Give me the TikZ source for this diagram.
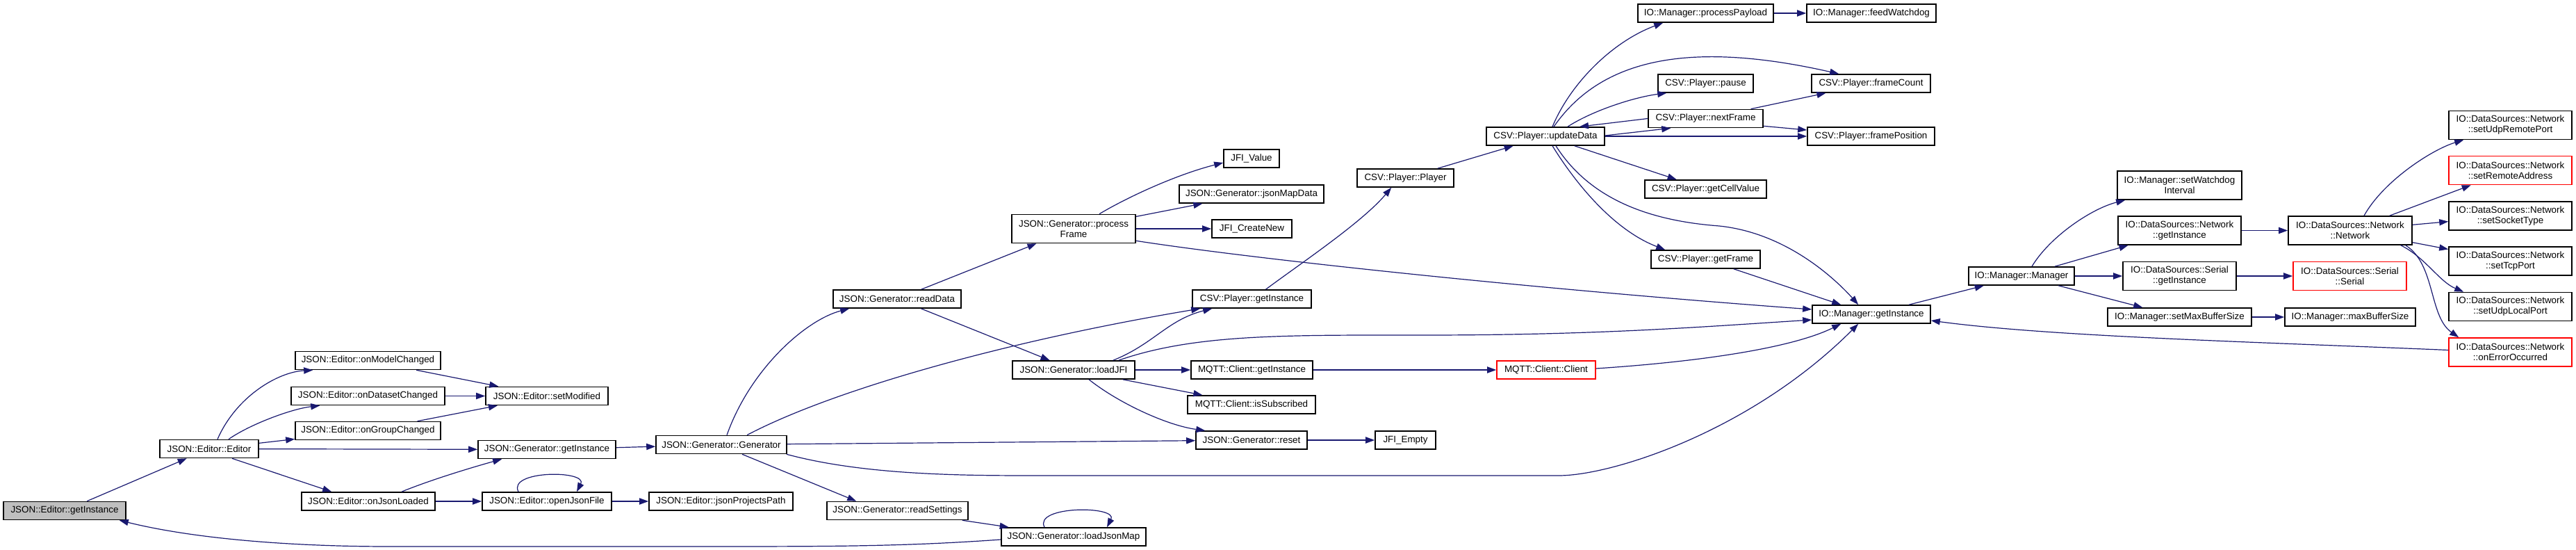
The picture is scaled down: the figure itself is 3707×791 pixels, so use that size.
\documentclass[tikz,border=0pt]{standalone}
\usepackage{fontspec}
\setmainfont{Liberation Sans}
\usetikzlibrary{arrows.meta,calc}
\definecolor{edgecol}{HTML}{191970}
\definecolor{greyfill}{HTML}{BFBFBF}
\newcommand\fsz{\fontsize{6.7}{7.5}\selectfont}
\tikzset{
  box/.style={draw=black, fill=white, line width=0.8pt, inner sep=0pt, align=center, font=\fsz},
  redbox/.style={box, draw=red},
  h1/.style={minimum height=13pt},
  h2/.style={minimum height=20.5pt},
  edge/.style={draw=edgecol, line width=0.6pt, -{Triangle[length=6.5pt,width=4.6pt]}},
}
\begin{document}
\begin{tikzpicture}[x=0.5pt,y=-0.5pt]
\useasboundingbox (0,0) rectangle (3707,791);
% ---------- nodes ----------
\node[box,h1,fill=greyfill,minimum width=88pt] (egi) at (93,734.5) {JSON::Editor::getInstance};
\node[box,h1,minimum width=71pt] (eed) at (301,645.5) {JSON::Editor::Editor};
\node[box,h1,minimum width=104.5pt] (omc) at (529.5,518.5) {JSON::Editor::onModelChanged};
\node[box,h1,minimum width=110.5pt] (odc) at (529.5,569.5) {JSON::Editor::onDatasetChanged};
\node[box,h1,minimum width=104.5pt] (ogc) at (529.5,619.5) {JSON::Editor::onGroupChanged};
\node[box,h1,minimum width=88pt] (smod) at (787,569.5) {JSON::Editor::setModified};
\node[box,h1,minimum width=99pt] (ggi) at (787,646.5) {JSON::Generator::getInstance};
\node[box,h1,minimum width=94pt] (gen) at (1038,639.5) {JSON::Generator::Generator};
\node[box,h1,minimum width=96pt] (ojl) at (530,721) {JSON::Editor::onJsonLoaded};
\node[box,h1,minimum width=93pt] (ojf) at (787,721) {JSON::Editor::openJsonFile};
\node[box,h1,minimum width=103.5pt] (jpp) at (1037.5,721) {JSON::Editor::jsonProjectsPath};
\node[box,h1,minimum width=92pt] (rdata) at (1291,430) {JSON::Generator::readData};
\node[box,h1,minimum width=101.5pt] (rset) at (1291.5,734.5) {JSON::Generator::readSettings};
\node[box,h1,minimum width=104pt] (ljm) at (1545,772) {JSON::Generator::loadJsonMap};
\node[box,h2,minimum width=89pt] (pf) at (1545,329) {JSON::Generator::process\\Frame};
\node[box,h1,minimum width=88pt] (ljfi) at (1545,532) {JSON::Generator::loadJFI};
\node[box,h1,minimum width=40pt] (jfiv) at (1801,228) {JFI\_Value};
\node[box,h1,minimum width=104pt] (jmd) at (1801,279) {JSON::Generator::jsonMapData};
\node[box,h1,minimum width=57.5pt] (jfic) at (1801.5,329) {JFI\_CreateNew};
\node[box,h1,minimum width=85.5pt] (csvgi) at (1801.5,430) {CSV::Player::getInstance};
\node[box,h1,minimum width=87.5pt] (mqgi) at (1801.5,532) {MQTT::Client::getInstance};
\node[box,h1,minimum width=92pt] (issub) at (1801,582) {MQTT::Client::isSubscribed};
\node[box,h1,minimum width=80pt] (reset) at (1801,633) {JSON::Generator::reset};
\node[box,h1,minimum width=43.5pt] (jfie) at (2022.5,633) {JFI\_Empty};
\node[box,h1,minimum width=69.5pt] (csvp) at (2022.5,256) {CSV::Player::Player};
\node[redbox,h1,minimum width=71pt] (mqc) at (2225,532) {MQTT::Client::Client};
\node[box,h1,minimum width=85pt] (upd) at (2224,196) {CSV::Player::updateData};
\node[box,h1,minimum width=97.5pt] (ppl) at (2454.5,19) {IO::Manager::processPayload};
\node[box,h1,minimum width=93pt] (fwd) at (2693,19) {IO::Manager::feedWatchdog};
\node[box,h1,minimum width=68.5pt] (pause) at (2454.5,120) {CSV::Player::pause};
\node[box,h1,minimum width=85.5pt] (fcount) at (2692.5,120) {CSV::Player::frameCount};
\node[box,h1,minimum width=82.5pt] (nframe) at (2454.5,170.5) {CSV::Player::nextFrame};
\node[box,h1,minimum width=91.5pt] (fpos) at (2692.5,196) {CSV::Player::framePosition};
\node[box,h1,minimum width=87.5pt] (gcv) at (2454.5,272) {CSV::Player::getCellValue};
\node[box,h1,minimum width=78.5pt] (gfr) at (2454.5,373) {CSV::Player::getFrame};
\node[box,h1,minimum width=85pt] (mgi) at (2693,452) {IO::Manager::getInstance};
\node[box,h1,minimum width=76pt] (mman) at (2909,397) {IO::Manager::Manager};
\node[box,h2,minimum width=89.5pt] (swi) at (3136.5,266.5) {IO::Manager::setWatchdog\\Interval};
\node[box,h2,minimum width=88.5pt] (ngi) at (3136.5,331.5) {IO::DataSources::Network\\::getInstance};
\node[box,h2,minimum width=81.5pt] (sgi) at (3136.5,397) {IO::DataSources::Serial\\::getInstance};
\node[box,h1,minimum width=103.5pt] (smbs) at (3136.5,456) {IO::Manager::setMaxBufferSize};
\node[box,h2,minimum width=89pt] (net) at (3382,331.5) {IO::DataSources::Network\\::Network};
\node[redbox,h2,minimum width=81.5pt] (ser) at (3381.5,397) {IO::DataSources::Serial\\::Serial};
\node[box,h1,minimum width=94pt] (mbs) at (3382,456) {IO::Manager::maxBufferSize};
\node[box,h2,minimum width=88.5pt] (surp) at (3612.5,180) {IO::DataSources::Network\\::setUdpRemotePort};
\node[redbox,h2,minimum width=88.5pt] (sra) at (3612.5,245) {IO::DataSources::Network\\::setRemoteAddress};
\node[box,h2,minimum width=88.5pt] (sst) at (3612.5,310.5) {IO::DataSources::Network\\::setSocketType};
\node[box,h2,minimum width=88.5pt] (stp) at (3612.5,375.5) {IO::DataSources::Network\\::setTcpPort};
\node[box,h2,minimum width=88.5pt] (sulp) at (3612.5,441) {IO::DataSources::Network\\::setUdpLocalPort};
\node[redbox,h2,minimum width=88.5pt] (oeo) at (3612.5,506.5) {IO::DataSources::Network\\::onErrorOccurred};
% ---------- edges ----------
\draw[edge] (egi) -- (eed);
\draw[edge] ($(eed.north)+(12,0)$) .. controls (340,570) and (400,535) .. ($(omc.south west)+(26,0)$);
\draw[edge] ($(eed.north)+(28,0)$) .. controls (360,610) and (420,588) .. ($(odc.south west)+(42,0)$);
\draw[edge] (eed) -- (ogc);
\draw[edge] (eed) -- (ggi);
\draw[edge] ($(eed.south)+(33,0)$) -- ($(ojl.north west)+(44,0)$);
\draw[edge] (omc) -- (smod);
\draw[edge] (odc) -- (smod);
\draw[edge] (ogc) -- (smod);
\draw[edge] ($(ojl.north)+(48,0)$) .. controls (620,690) and (680,672) .. ($(ggi.south west)+(35,0)$);
\draw[edge] (ojl) -- (ojf);
\draw[edge] ($(ojf.north)+(-41,0)$) .. controls (730,676) and (846,676) .. ($(ojf.north)+(43,0)$);
\draw[edge] (ojf) -- (jpp);
\draw[edge] (ggi) -- (gen);
\draw[edge] ($(gen.north)+(8,0)$) .. controls (1080,530) and (1160,460) .. ($(rdata.south west)+(24,0)$);
\draw[edge] ($(gen.north)+(37,0)$) .. controls (1200,560) and (1450,490) .. ($(csvgi.south west)+(12,0)$);
\draw[edge] (gen) -- (reset);
\draw[edge] ($(gen.south east)+(-1,0)$) .. controls (1250,685) and (1400,684) .. (1508,684) -- (2243,684) .. controls (2320,684) and (2520,620) .. ($(mgi.south west)+(67,0)$);
\draw[edge] ($(gen.south)+(30,0)$) -- ($(rset.north west)+(43,0)$);
\draw[edge] (rset) -- (ljm);
\draw[edge] ($(ljm.north)+(-42,0)$) .. controls (1487,727) and (1609,727) .. ($(ljm.north)+(48,0)$);
\draw[edge] ($(ljm.west)+(0,4)$) .. controls (1300,786) and (1200,786) .. (1000,786) -- (560,786) .. controls (420,786) and (280,775) .. ($(egi.south east)+(-10,0)$);
\draw[edge] (rdata) -- (pf);
\draw[edge] (rdata) -- (ljfi);
\draw[edge] ($(pf.north)+(37,0)$) .. controls (1620,285) and (1690,252) .. ($(jfiv.west)+(0,6)$);
\draw[edge] (pf) -- (jmd);
\draw[edge] (pf) -- (jfic);
\draw[edge] ($(pf.south east)+(0,-4)$) .. controls (1800,372) and (2200,415) .. ($(mgi.west)+(0,-7)$);
\draw[edge] ($(ljfi.north east)+(-32,0)$) .. controls (1660,495) and (1680,460) .. ($(csvgi.south west)+(29,0)$);
\draw[edge] ($(ljfi.north east)+(-24,0)$) .. controls (1720,480) and (1850,482) .. (2050,482) .. controls (2300,482) and (2450,470) .. ($(mgi.west)+(0,8)$);
\draw[edge] (ljfi) -- (mqgi);
\draw[edge] (ljfi) -- (issub);
\draw[edge] ($(ljfi.south)+(22,0)$) .. controls (1610,580) and (1680,612) .. ($(reset.north west)+(14,0)$);
\draw[edge] (mqgi) -- (mqc);
\draw[edge] ($(mqc.east)+(0,-2)$) .. controls (2450,520) and (2580,500) .. ($(mgi.south west)+(42,0)$);
\draw[edge] (reset) -- (jfie);
\draw[edge] ($(csvgi.north)+(20,0)$) .. controls (1870,380) and (1960,320) .. ($(csvp.south west)+(50,0)$);
\draw[edge] (csvp) -- (upd);
\draw[edge] ($(upd.north)+(10,0)$) .. controls (2260,120) and (2320,60) .. ($(ppl.south west)+(37,0)$);
\draw[edge] ($(upd.north)+(12,0)$) .. controls (2300,90) and (2420,55) .. ($(fcount.north west)+(40,0)$);
\draw[edge] ($(upd.north)+(32,0)$) .. controls (2290,160) and (2350,140) .. ($(pause.south west)+(13,0)$);
\draw[edge] ($(upd.east)+(0,-1)$) -- ($(nframe.south west)+(33,0)$);
\draw[edge] (nframe.west) -- ($(upd.north)+(49,0)$);
\draw[edge] (upd) -- (fpos);
\draw[edge] (nframe) -- (fcount);
\draw[edge] ($(nframe.south east)+(0,-3)$) -- ($(fpos.west)+(0,-9)$);
\draw[edge] (ppl) -- (fwd);
\draw[edge] (upd) -- (gcv);
\draw[edge] ($(upd.south)+(10,0)$) .. controls (2265,260) and (2320,330) .. ($(gfr.north west)+(21,0)$);
\draw[edge] ($(upd.south)+(15,0)$) .. controls (2290,290) and (2380,318) .. (2474,325) .. controls (2570,335) and (2640,400) .. ($(mgi.north west)+(67,0)$);
\draw[edge] ($(gfr.south east)+(-39,0)$) -- ($(mgi.north west)+(42,0)$);
\draw[edge] (mgi) -- (mman);
\draw[edge] ($(oeo.west)+(0,-3)$) .. controls (3250,492) and (2950,484) .. ($(mgi.east)+(0,9)$);
\draw[edge] ($(mman.north)+(15,0)$) .. controls (2950,340) and (3010,300) .. ($(swi.south west)+(12,0)$);
\draw[edge] (mman) -- (ngi);
\draw[edge] (mman) -- (sgi);
\draw[edge] (mman) -- (smbs);
\draw[edge] (ngi) -- (net);
\draw[edge] (sgi) -- (ser);
\draw[edge] (smbs) -- (mbs);
\draw[edge] ($(net.north)+(20,0)$) .. controls (3430,260) and (3500,215) .. ($(surp.south west)+(22,0)$);
\draw[edge] (net) -- (sra);
\draw[edge] (net) -- (sst);
\draw[edge] (net) -- (stp);
\draw[edge] ($(net.south east)+(-17,0)$) .. controls (3490,370) and (3510,405) .. ($(sulp.north west)+(22,0)$);
\draw[edge] ($(net.south east)+(-10,0)$) .. controls (3505,380) and (3495,455) .. ($(oeo.north west)+(15,0)$);
\end{tikzpicture}
\end{document}
